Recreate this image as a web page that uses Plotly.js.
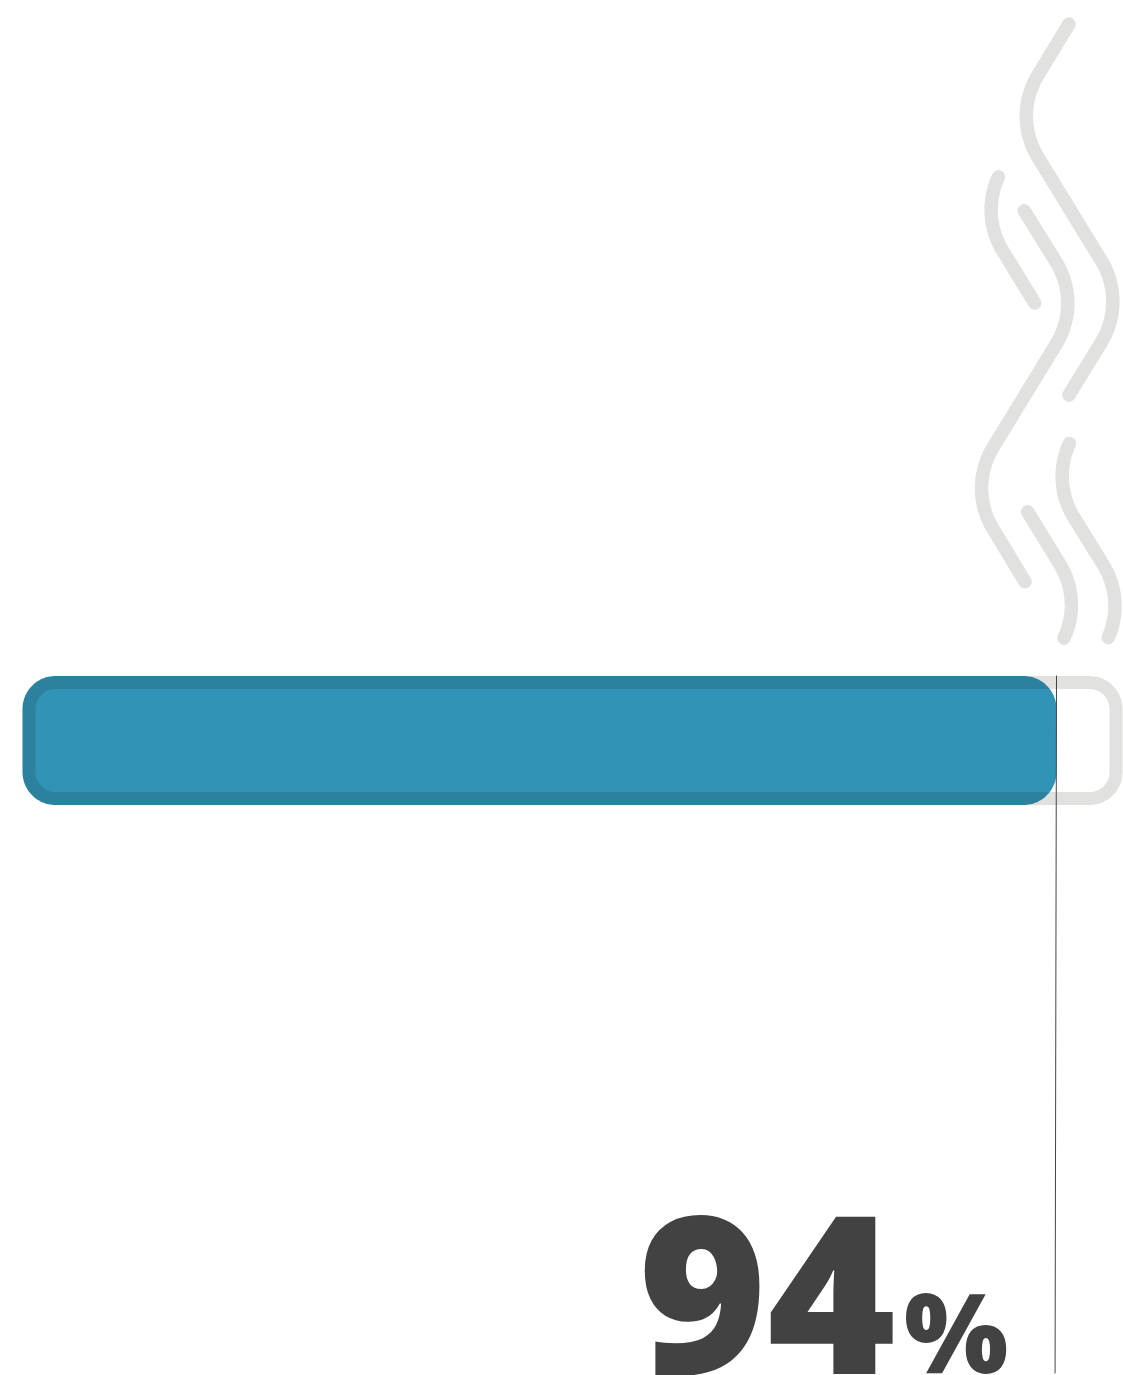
<!DOCTYPE html>
<html>
<head>
<meta charset="utf-8">
<script src="https://cdn.plot.ly/plotly-3.0.1.min.js"></script>
<style>
html,body{margin:0;padding:0;background:#fff;overflow:hidden}
#chart{width:1123px;height:1375px}
.scatterlayer .js-line{stroke-linecap:round}
.scatterlayer .js-fill{mix-blend-mode:multiply}
</style>
</head>
<body>
<div id="chart"></div>
<script>
// Data
var percentValue = 94;
var percentMax = 100;
var unitLabel = "%";

// Decorative steam strokes (page pixels):
// polyline vertices, and the y values where the stroke starts and stops
var steamAx = [1069, 1013, 1126.3, 1069];
var steamAy = [24, 116.5, 301.5, 395];
var steamBx = [1003, 977.7, 1034.7];
var steamBy = [168.5, 210, 303];
var steamCx = [1024.3, 1081.3, 968.3, 1025];
var steamCy = [210.7, 303, 488, 581.7];
var steamDx = [1074, 1048.7, 1128.7, 1103];
var steamDy = [435, 476.7, 606, 647.5];
var steamEx = [1027.7, 1084.7, 1059.5];
var steamEy = [511.7, 605, 646.5];
var steamStops = [[24,395],[176,303],[210.7,581.7],[442.3,638.3],[511.7,638.3]];

// Layout constants
var W = 1123, H = 1375;
var barLeftPx = 22.5, barRightPx = 1122.5, barTopPx = 676, barBottomPx = 805;
var pxPerUnit = (barRightPx - barLeftPx) / percentMax;
var strokePx = 13, steamStrokePx = 13.5, outerRadiusPx = 33, bendRadiusPx = 78;

function roundedRect(x0Px, x1Px, y0, y1, r) {
  var xs = [], ys = [];
  var corners = [[x1Px-r,y0+r,-90],[x1Px-r,y1-r,0],[x0Px+r,y1-r,90],[x0Px+r,y0+r,180]];
  corners.forEach(function (c) {
    for (var d = 0; d <= 90; d += 3) {
      var a = (c[2] + d) * Math.PI / 180;
      xs.push(((c[0] + r*Math.cos(a)) - barLeftPx) / pxPerUnit);
      ys.push(c[1] + r*Math.sin(a));
    }
  });
  xs.push(xs[0]); ys.push(ys[0]);
  return {x: xs, y: ys};
}

// Rounds each inner vertex of a polyline with a circular fillet, then trims to the y stops
function filletStroke(vx, vy, r, stops) {
  var xs = [vx[0]], ys = [vy[0]];
  for (var i = 1; i < vx.length - 1; i++) {
    var ax = vx[i-1]-vx[i], ay = vy[i-1]-vy[i], bx = vx[i+1]-vx[i], by = vy[i+1]-vy[i];
    var la = Math.hypot(ax,ay), lb = Math.hypot(bx,by);
    ax/=la; ay/=la; bx/=lb; by/=lb;
    var half = Math.acos(ax*bx+ay*by)/2;
    var t = r/Math.tan(half);
    var mx = ax+bx, my = ay+by, ml = Math.hypot(mx,my);
    var cx = vx[i]+mx/ml*r/Math.sin(half), cy = vy[i]+my/ml*r/Math.sin(half);
    var a0 = Math.atan2(vy[i]+ay*t-cy, vx[i]+ax*t-cx);
    var a1 = Math.atan2(vy[i]+by*t-cy, vx[i]+bx*t-cx);
    var da = a1-a0;
    while (da > Math.PI) da -= 2*Math.PI;
    while (da < -Math.PI) da += 2*Math.PI;
    for (var k = 0; k <= 40; k++) {
      var an = a0+da*k/40;
      xs.push(cx+r*Math.cos(an)); ys.push(cy+r*Math.sin(an));
    }
  }
  xs.push(vx[vx.length-1]); ys.push(vy[vy.length-1]);
  var ox = [], oy = [];
  for (var j = 0; j < xs.length; j++) {
    if (ys[j] >= stops[0] && ys[j] <= stops[1]) { ox.push(xs[j]); oy.push(ys[j]); }
  }
  return {x: ox, y: oy};
}

var valuePx = barLeftPx + percentValue * pxPerUnit;
var track = roundedRect(barLeftPx + strokePx/2, barRightPx - strokePx/2,
                        barTopPx + strokePx/2, barBottomPx - strokePx/2, outerRadiusPx - strokePx/2);
var fillBar = roundedRect(barLeftPx, valuePx, barTopPx, barBottomPx, outerRadiusPx);

var steamColor = "#e1e1df";
var traces = [];
[[steamAx,steamAy],[steamBx,steamBy],[steamCx,steamCy],[steamDx,steamDy],[steamEx,steamEy]].forEach(function (s, i) {
  var p = filletStroke(s[0], s[1], bendRadiusPx, steamStops[i]);
  traces.push({type:"scatter", mode:"lines", x:p.x, y:p.y, xaxis:"x2", yaxis:"y",
    line:{color:steamColor, width:steamStrokePx, simplify:false}, hoverinfo:"skip", showlegend:false});
});
traces.push({type:"scatter", mode:"lines", x:track.x, y:track.y,
  line:{color:steamColor, width:strokePx, simplify:false}, hoverinfo:"skip", showlegend:false});
traces.push({type:"scatter", mode:"lines", x:fillBar.x, y:fillBar.y, fill:"toself", fillcolor:"#3193b5",
  line:{width:0, simplify:false}, hoverinfo:"skip", showlegend:false});
// leader line from the bar's end to the label baseline
traces.push({type:"scatter", mode:"lines", x:[percentValue, percentValue-0.13], y:[barTopPx, 1373],
  line:{color:"#444444", width:1}, hoverinfo:"skip", showlegend:false});

var hidden = {visible:false, showgrid:false, zeroline:false, fixedrange:true};
var layout = {
  width:W, height:H, margin:{l:0,r:0,t:0,b:0}, paper_bgcolor:"#fff", plot_bgcolor:"#fff",
  showlegend:false,
  xaxis:Object.assign({range:[-barLeftPx/pxPerUnit,(W-barLeftPx)/pxPerUnit]}, hidden),
  xaxis2:Object.assign({range:[0,W], overlaying:"x", anchor:"y"}, hidden),
  yaxis:Object.assign({range:[H,0]}, hidden),
  annotations:[
    {xref:"x2", yref:"y", x:898, y:1373, xanchor:"right", yanchor:"bottom", yshift:-67, showarrow:false,
     text:String(percentValue), font:{family:"'Open Sans'", size:220, color:"#424242", weight:800}},
    {xref:"x2", yref:"y", x:1010, y:1373, xanchor:"right", yanchor:"bottom", yshift:-34, showarrow:false,
     text:unitLabel, font:{family:"'Open Sans'", size:110, color:"#424242", weight:800}}
  ]
};
Plotly.newPlot("chart", traces, layout, {displayModeBar:false, staticPlot:true});
</script>
</body>
</html>
